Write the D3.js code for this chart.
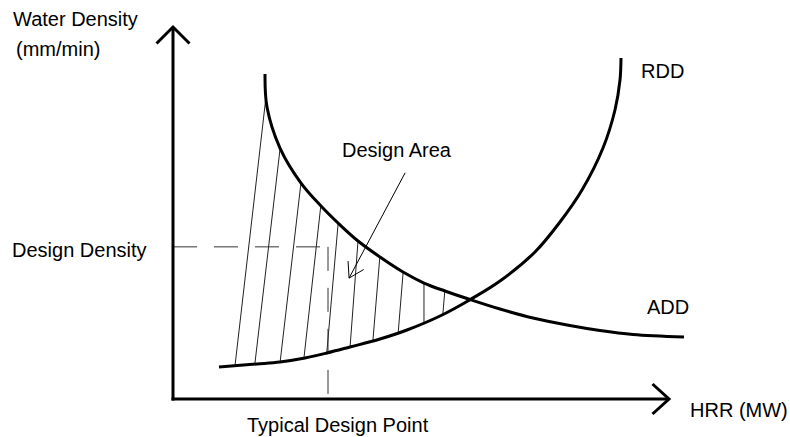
<!DOCTYPE html>
<html>
<head>
<meta charset="utf-8">
<script src="https://cdn.jsdelivr.net/npm/d3@7"></script>
<style>
  html, body { margin: 0; padding: 0; background: #fff; }
  svg { display: block; }
  text { font-family: "Liberation Sans", Arial, Helvetica, sans-serif; fill: #000; }
</style>
</head>
<body>
<svg id="chart" width="790" height="437"></svg>
<script>
// ---- Data (HRR and water density in arbitrary units, schematic) ----
const addHRR     = [1.855, 1.895, 2.157, 2.581, 2.984, 3.327, 3.730, 4.173, 4.637, 5.060, 5.484, 5.988, 6.593, 7.258, 7.944, 8.609, 9.274, 10.302];
const addDensity = [8.737, 7.849, 6.747, 5.806, 5.188, 4.731, 4.247, 3.817, 3.414, 3.118, 2.903, 2.675, 2.419, 2.177, 1.989, 1.841, 1.734, 1.667];

const rddHRR     = [0.927, 1.694, 2.157, 2.661, 3.105, 3.569, 4.173, 4.718, 5.383, 5.988, 6.593, 7.298, 7.802, 8.246, 8.669, 8.911, 9.012, 9.032];
const rddDensity = [0.860, 0.941, 0.995, 1.102, 1.237, 1.398, 1.613, 1.855, 2.231, 2.670, 3.172, 3.952, 4.758, 5.618, 6.747, 7.769, 8.575, 9.167];

// hatch lines: HRR at the RDD (bottom) end and at the ADD (top) end
const hatchBottomHRR = [1.25, 1.65, 2.16, 2.64, 3.10, 3.57, 4.03, 4.54, 5.06, 5.44];
const hatchTopHRR    = [1.88, 2.16, 2.58, 2.98, 3.33, 3.73, 4.17, 4.64, 5.06, 5.48];

const designDensity = 4.09;
const designPointHRR = 3.125;
const designAreaArrowFrom = [4.68, 6.08];
const designAreaArrowTo   = [3.55, 3.25];

const axisMax = [10, 10];

// ---- Scales ----
const svg = d3.select("#chart");
const x = d3.scaleLinear().domain([0, axisMax[0]]).range([173, 669]);
const y = d3.scaleLinear().domain([0, axisMax[1]]).range([399, 27]);

const add = addHRR.map((h, i) => [h, addDensity[i]]);
const rdd = rddHRR.map((h, i) => [h, rddDensity[i]]);

function interp(pts, h) {
  for (let i = 0; i < pts.length - 1; i++) {
    const a = pts[i], b = pts[i + 1];
    if (h >= a[0] && h <= b[0]) {
      const t = (h - a[0]) / (b[0] - a[0] || 1);
      return a[1] + t * (b[1] - a[1]);
    }
  }
  return h < pts[0][0] ? pts[0][1] : pts[pts.length - 1][1];
}

// ---- Hatching ----
const hatch = hatchBottomHRR.map((b, i) => ({
  x1: b, y1: interp(rdd, b), x2: hatchTopHRR[i], y2: interp(add, hatchTopHRR[i])
}));
svg.append("g").selectAll("line").data(hatch).join("line")
  .attr("x1", d => x(d.x1)).attr("y1", d => y(d.y1))
  .attr("x2", d => x(d.x2)).attr("y2", d => y(d.y2))
  .attr("stroke", "#222").attr("stroke-width", 1);

// ---- Dashed guide lines ----
svg.append("line")
  .attr("x1", x(0)).attr("y1", y(designDensity))
  .attr("x2", x(designPointHRR)).attr("y2", y(designDensity))
  .attr("stroke", "#333").attr("stroke-width", 1).attr("stroke-dasharray", "24,17");
svg.append("line")
  .attr("x1", x(designPointHRR)).attr("y1", y(designDensity))
  .attr("x2", x(designPointHRR)).attr("y2", y(0))
  .attr("stroke", "#333").attr("stroke-width", 1).attr("stroke-dasharray", "24,17");

// ---- Curves ----
const line = d3.line().x(d => x(d[0])).y(d => y(d[1])).curve(d3.curveCatmullRom.alpha(0.5));
svg.append("path").datum(add).attr("d", line)
  .attr("fill", "none").attr("stroke", "#000").attr("stroke-width", 3);
svg.append("path").datum(rdd).attr("d", line)
  .attr("fill", "none").attr("stroke", "#000").attr("stroke-width", 3);

// ---- Axes with arrow heads ----
svg.append("line").attr("x1", x(0)).attr("y1", y(0) + 1.5).attr("x2", x(0)).attr("y2", y(axisMax[1]))
  .attr("stroke", "#000").attr("stroke-width", 3);
svg.append("line").attr("x1", x(0) - 1.5).attr("y1", y(0)).attr("x2", x(axisMax[0])).attr("y2", y(0))
  .attr("stroke", "#000").attr("stroke-width", 3);
const ah = 16.5;
svg.append("path")
  .attr("d", `M${x(0) - ah},${y(axisMax[1]) + ah}L${x(0)},${y(axisMax[1])}L${x(0) + ah},${y(axisMax[1]) + ah}`)
  .attr("fill", "none").attr("stroke", "#000").attr("stroke-width", 3);
svg.append("path")
  .attr("d", `M${x(axisMax[0]) - ah},${y(0) - 15}L${x(axisMax[0])},${y(0)}L${x(axisMax[0]) - ah},${y(0) + 15}`)
  .attr("fill", "none").attr("stroke", "#000").attr("stroke-width", 3);

// ---- Design Area pointer arrow ----
const fx = x(designAreaArrowFrom[0]), fy = y(designAreaArrowFrom[1]);
const tx = x(designAreaArrowTo[0]), ty = y(designAreaArrowTo[1]);
svg.append("line").attr("x1", fx).attr("y1", fy).attr("x2", tx).attr("y2", ty)
  .attr("stroke", "#000").attr("stroke-width", 1);
const ang = Math.atan2(fy - ty, fx - tx);
const wl = 17, wa = 0.55;
svg.append("path")
  .attr("d", `M${tx + wl * Math.cos(ang - wa)},${ty + wl * Math.sin(ang - wa)}L${tx},${ty}L${tx + wl * Math.cos(ang + wa)},${ty + wl * Math.sin(ang + wa)}`)
  .attr("fill", "none").attr("stroke", "#000").attr("stroke-width", 1);

// ---- Labels ----
const fs = "20px";
const labels = [
  { t: "Water Density", x: 13, y: 26 },
  { t: "(mm/min)", x: 16, y: 56 },
  { t: "Design Density", x: 12, y: 257 },
  { t: "Design Area", x: 342, y: 157 },
  { t: "RDD", x: 641, y: 78 },
  { t: "ADD", x: 647, y: 314 },
  { t: "HRR (MW)", x: 690, y: 417 },
  { t: "Typical Design Point", x: 247, y: 432 }
];
svg.append("g").selectAll("text").data(labels).join("text")
  .attr("x", d => d.x).attr("y", d => d.y)
  .attr("font-size", fs)
  .text(d => d.t);
</script>
</body>
</html>
